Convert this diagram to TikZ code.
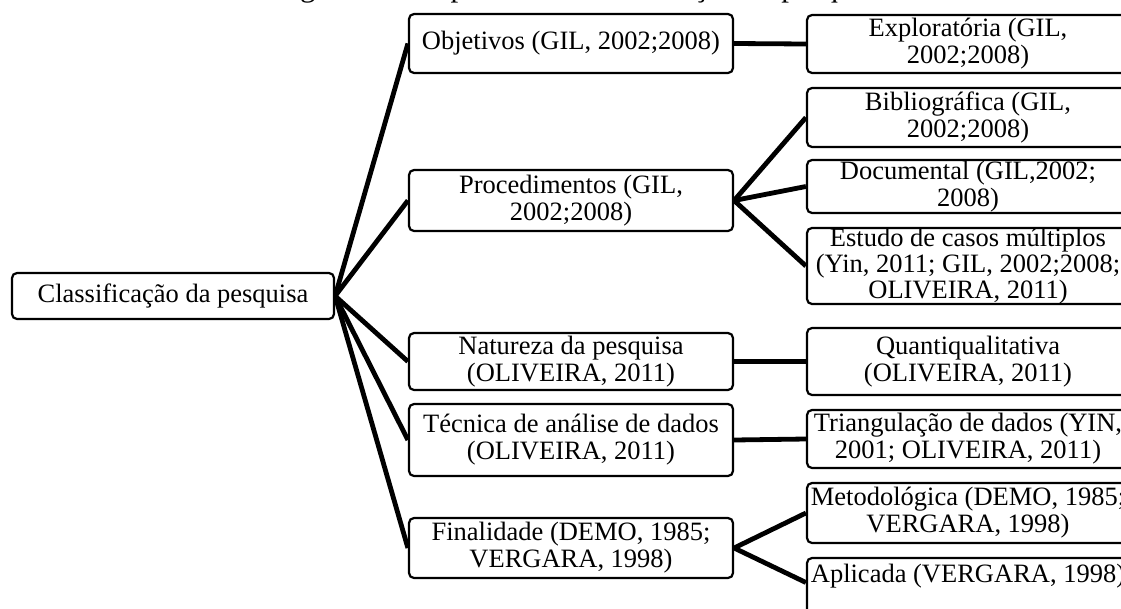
\documentclass[tikz,border=0pt]{standalone}
\usepackage{fontspec}
\setmainfont{Liberation Serif}
\usetikzlibrary{backgrounds}
\tikzset{
  box/.style={draw, line width=2.2pt, rounded corners=5pt, fill=white, inner sep=0pt,
    align=center, font=\fontsize{26.5}{27}\selectfont},
  lvltwo/.style={box, minimum width=324pt},
  lvlthree/.style={box, minimum width=322pt},
  conn/.style={line width=4.8pt},
  ttl/.style={anchor=base west, inner sep=0pt, font=\fontsize{31}{31}\selectfont}
}
\begin{document}
\begin{tikzpicture}[x=1pt,y=-1pt]
\useasboundingbox (0,0) rectangle (1121,608);
\clip (0,0) rectangle (1121,608);
% clipped title (only descenders visible)
\node[ttl] (titlea) at (274,-3.5) {Figura 1 – Etapas da};
\node[ttl] (titleb) at (578,-3.5) {classificação da pesquisa};
% root
\node[box, minimum width=322pt, minimum height=46pt] (root) at (173,296) {Classificação da pesquisa};
% level 2
\node[lvltwo, minimum height=59pt] (obj) at (571,43.5) {Objetivos (GIL, 2002;2008)};
\node[lvltwo, minimum height=61pt] (proc) at (571,200.5) {Procedimentos (GIL,\\2002;2008)};
\node[lvltwo, minimum height=57pt] (nat) at (571,361.5) {Natureza da pesquisa\\(OLIVEIRA, 2011)};
\node[lvltwo, minimum height=72pt] (tec) at (571,440) {Técnica de análise de dados\\(OLIVEIRA, 2011)};
\node[lvltwo, minimum height=60pt] (fin) at (571,548) {Finalidade (DEMO, 1985;\\VERGARA, 1998)};
% level 3
\node[lvlthree, minimum height=58pt] (exp) at (968,44) {Exploratória (GIL,\\2002;2008)};
\node[lvlthree, minimum height=59pt] (bib) at (968,117.5) {Bibliográfica (GIL,\\2002;2008)};
\node[lvlthree, minimum height=53pt] (doc) at (968,186.5) {Documental (GIL,2002;\\2008)};
\node[lvlthree, minimum height=75pt, font=\fontsize{26.5}{26}\selectfont] (est) at (968,266) {Estudo de casos múltiplos\\(Yin, 2011; GIL, 2002;2008;\\OLIVEIRA, 2011)};
\node[lvlthree, minimum height=67pt] (qua) at (968,361.5) {Quantiqualitativa\\(OLIVEIRA, 2011)};
\node[lvlthree, minimum height=58pt] (tri) at (968,439) {Triangulação de dados (YIN,\\2001; OLIVEIRA, 2011)};
\node[lvlthree, minimum height=60pt] (met) at (968,513) {Metodológica (DEMO, 1985;\\VERGARA, 1998)};
\node[lvlthree, minimum height=64pt, inner ysep=3pt, text height=21.5pt, text depth=36.5pt] (apl) at (968,590) {Aplicada (VERGARA, 1998)};
% connectors
\begin{pgfonlayer}{background}
\draw[conn] (root.east) -- (obj.west);
\draw[conn] (root.east) -- (proc.west);
\draw[conn] (root.east) -- (nat.west);
\draw[conn] (root.east) -- (tec.west);
\draw[conn] (root.east) -- (fin.west);
\draw[conn] (obj.east) -- (exp.west);
\draw[conn] (proc.east) -- (bib.west);
\draw[conn] (proc.east) -- (doc.west);
\draw[conn] (proc.east) -- (est.west);
\draw[conn] (nat.east) -- (qua.west);
\draw[conn] (tec.east) -- (tri.west);
\draw[conn] (fin.east) -- (met.west);
\draw[conn] (fin.east) -- (apl.base west);
\end{pgfonlayer}
\end{tikzpicture}
\end{document}
